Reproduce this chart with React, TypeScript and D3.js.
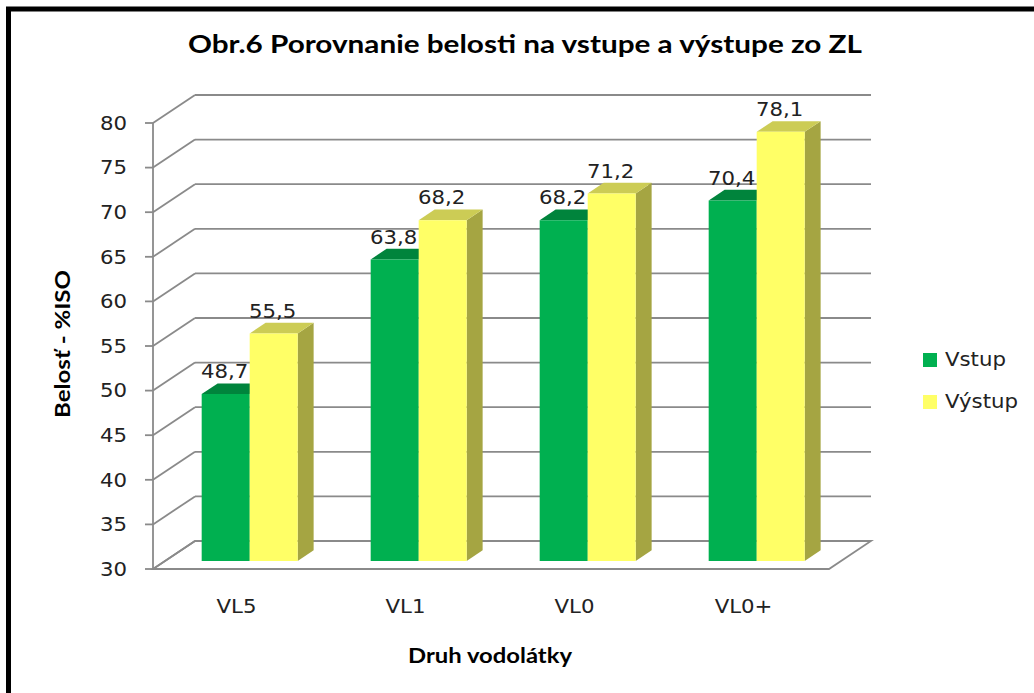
import React from "react";
import * as d3 from "d3";

const categories = ["VL5", "VL1", "VL0", "VL0+"];
const vstup = [48.7, 63.8, 68.2, 70.4];
const vystup = [55.5, 68.2, 71.2, 78.1];
const seriesNames = ["Vstup", "Výstup"];
const yTicks = [30, 35, 40, 45, 50, 55, 60, 65, 70, 75, 80];

const width = 1034;
const height = 693;

// depth of the 3D box (back wall offset)
const DX = 42;
const DY = -28;
// bars sit in the middle of the depth
const D0 = 0.29;
const D1 = 0.67;
const barW = 48;

const faces = [
    {front: "#00B050", top: "#00843C", side: "#007A36"},
    {front: "#FFFF66", top: "#CCCC55", side: "#A5A542"},
];

const numFmt = (v: number) => v.toFixed(1).replace(".", ",");

// the original text is a bit wider than DejaVu, so stretch it a little
function Label(props: {x: number, y: number, anchor?: string, dy?: string, children: any}) {
    return (
        <text transform={`translate(${props.x},${props.y}) scale(1.12,1)`} dy={props.dy}
              textAnchor={props.anchor || "start"} fontFamily="'DejaVu Sans', Verdana, sans-serif"
              fontSize={19} fill="#222">{props.children}</text>
    );
}

function App() {
    const y = d3.scaleLinear().domain([30, 80]).range([569, 123]);
    const x = d3.scaleBand().domain(categories).range([153, 829]);
    const x0 = 153, x1 = 829;
    const grid = "#8a8a8a";
    const bold = "Lato, 'Open Sans', sans-serif";

    const pt = (px: number, py: number, d: number) => `${px + DX * d},${py + DY * d}`;

    function bar(left: number, v: number, c: typeof faces[0], key: string) {
        const right = left + barW;
        const top = y(v);
        const bottom = y(30);
        const front = [pt(left, top, D0), pt(right, top, D0), pt(right, bottom, D0), pt(left, bottom, D0)];
        const lid = [pt(left, top, D0), pt(right, top, D0), pt(right, top, D1), pt(left, top, D1)];
        const side = [pt(right, top, D0), pt(right, top, D1), pt(right, bottom, D1), pt(right, bottom, D0)];
        return (
            <g key={key}>
                <polygon points={side.join(" ")} fill={c.side}/>
                <polygon points={lid.join(" ")} fill={c.top}/>
                <polygon points={front.join(" ")} fill={c.front}/>
            </g>
        );
    }

    return (
        <svg width={width} height={height} style={{position: "absolute", left: 0, top: 0, background: "#fff"}}>
            <rect x={8.5} y={9} width={1100} height={800} fill="#fff" stroke="#000" strokeWidth={5}/>
            <text x={525} y={53} textAnchor="middle" fontFamily={bold} fontWeight="bold" fontSize={25}
                  textLength={674} lengthAdjust="spacingAndGlyphs">
                Obr.6 Porovnanie belosti na vstupe a výstupe zo ZL
            </text>

            {/* floor */}
            <polygon points={[pt(x0, y(30), 0), pt(x1, y(30), 0), pt(x1, y(30), 1), pt(x0, y(30), 1)].join(" ")}
                     fill="#fff" stroke={grid} strokeWidth={1.8}/>
            {/* walls */}
            {yTicks.map(t => (
                <g key={t}>
                    <line x1={x0} y1={y(t)} x2={x0 + DX} y2={y(t) + DY} stroke={grid} strokeWidth={1.8}/>
                    <line x1={x0 + DX} y1={y(t) + DY} x2={x1 + DX} y2={y(t) + DY} stroke={grid} strokeWidth={1.8}/>
                    <line x1={x0 - 8} y1={y(t)} x2={x0} y2={y(t)} stroke={grid} strokeWidth={1.8}/>
                    <Label x={127} y={y(t)} dy="0.36em" anchor="end">{t}</Label>
                </g>
            ))}
            <line x1={x0} y1={y(80)} x2={x0} y2={y(30)} stroke={grid} strokeWidth={1.8}/>

            {/* bars */}
            {categories.map((c, i) => {
                const cx = (x(c) as number) + x.bandwidth() / 2;
                const vals = [vstup[i], vystup[i]];
                return (
                    <g key={c}>
                        {vals.map((v, s) => bar(cx - barW + s * barW, v, faces[s], c + s))}
                        {vals.map((v, s) => (
                            <Label key={"l" + s} x={cx - barW / 2 + s * barW + DX * D0 - 1} y={y(v) + DY * D1 - 5}
                                   anchor="middle">{numFmt(v)}</Label>
                        ))}
                        <Label x={cx - 1} y={613} anchor="middle">{c}</Label>
                    </g>
                );
            })}

            <text transform="translate(70,344) rotate(-90)" textAnchor="middle" fontFamily={bold} fontWeight="bold"
                  fontSize={20} textLength={148} lengthAdjust="spacingAndGlyphs">Belosť - %ISO</text>
            <text x={490} y={663} textAnchor="middle" fontFamily={bold} fontWeight="bold" fontSize={20}
                  textLength={164} lengthAdjust="spacingAndGlyphs">Druh vodolátky</text>

            {/* legend */}
            {seriesNames.map((n, s) => (
                <g key={n}>
                    <rect x={923} y={353 + s * 42} width={14} height={14} fill={faces[s].front}/>
                    <Label x={945} y={366 + s * 42}>{n}</Label>
                </g>
            ))}
        </svg>
    );
}

export default App;
